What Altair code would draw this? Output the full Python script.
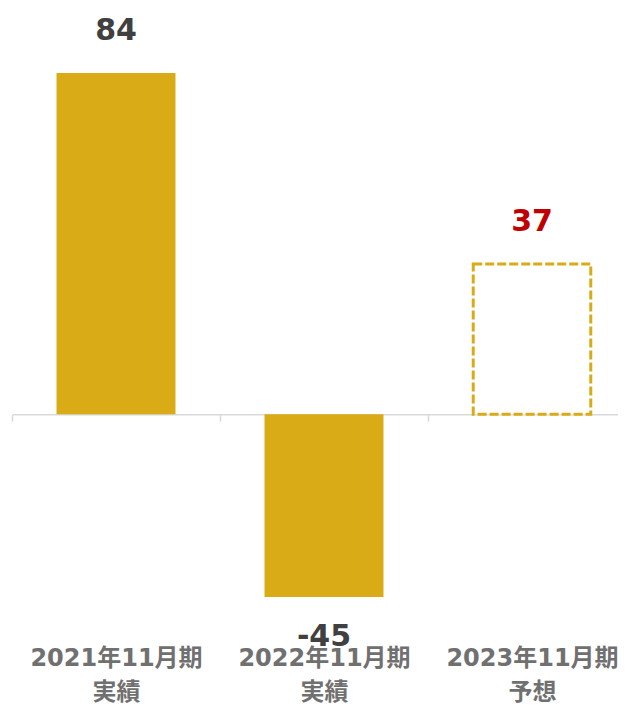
import altair as alt
import pandas as pd

periods = ["2021年11月期", "2022年11月期", "2023年11月期"]
kinds = ["実績", "実績", "予想"]
values = [84, -45, 37]
forecast = [False, False, True]

df = pd.DataFrame({
    "cat": [p + "|" + k for p, k in zip(periods, kinds)],
    "value": values,
    "forecast": forecast,
})

GOLD = "#D9AB16"
FONT = "'DejaVu Sans', 'Noto Sans CJK JP'"

x = alt.X(
    "cat:N",
    sort=None,
    scale=alt.Scale(paddingInner=0, paddingOuter=0),
    axis=alt.Axis(
        title=None,
        labelAngle=0,
        labelExpr="split(datum.label, '|')",
        offset=-243.75,
        tickBand="extent",
        tickSize=7,
        tickColor="#D9D9D9",
        tickWidth=1.5,
        domainColor="#D9D9D9",
        domainWidth=1.5,
        labelPadding=225,
        labelFont=FONT,
        labelFontSize=24,
        labelFontWeight="bold",
        labelColor="#707070",
        labelLineHeight=34,
        labelBaseline="top",
    ),
)
y = alt.Y("value:Q", scale=alt.Scale(domain=[-60, 100], nice=False), axis=None)

base = alt.Chart(df).transform_calculate(txt="'' + datum.value").encode(x=x, y=y)

solid = base.transform_filter("!datum.forecast").mark_bar(
    color=GOLD, width=alt.RelativeBandSize(0.572)
)
dashed = base.transform_filter("datum.forecast").mark_bar(
    fill="white", stroke=GOLD, strokeWidth=3, strokeDash=[9, 3],
    width=alt.RelativeBandSize(0.565)
)

text_color = alt.condition("datum.forecast", alt.value("#C00000"), alt.value("#404040"))
pos_text = base.transform_filter("datum.value >= 0").mark_text(
    font=FONT, fontSize=30, fontWeight="bold", baseline="alphabetic", dy=-33
).encode(text="txt:N", color=text_color)
neg_text = base.transform_filter("datum.value < 0").mark_text(
    font=FONT, fontSize=30, fontWeight="bold", baseline="alphabetic", dy=49
).encode(text="txt:N", color=text_color)

chart = alt.layer(solid, dashed, pos_text, neg_text).properties(
    width=624,
    height=650,
    autosize=alt.AutoSizeParams(type="none"),
    padding={"left": 4, "top": 0, "right": -18, "bottom": 48},
).configure_view(stroke=None)

chart.save("out.html", embed_options={"renderer": "svg", "actions": False})
